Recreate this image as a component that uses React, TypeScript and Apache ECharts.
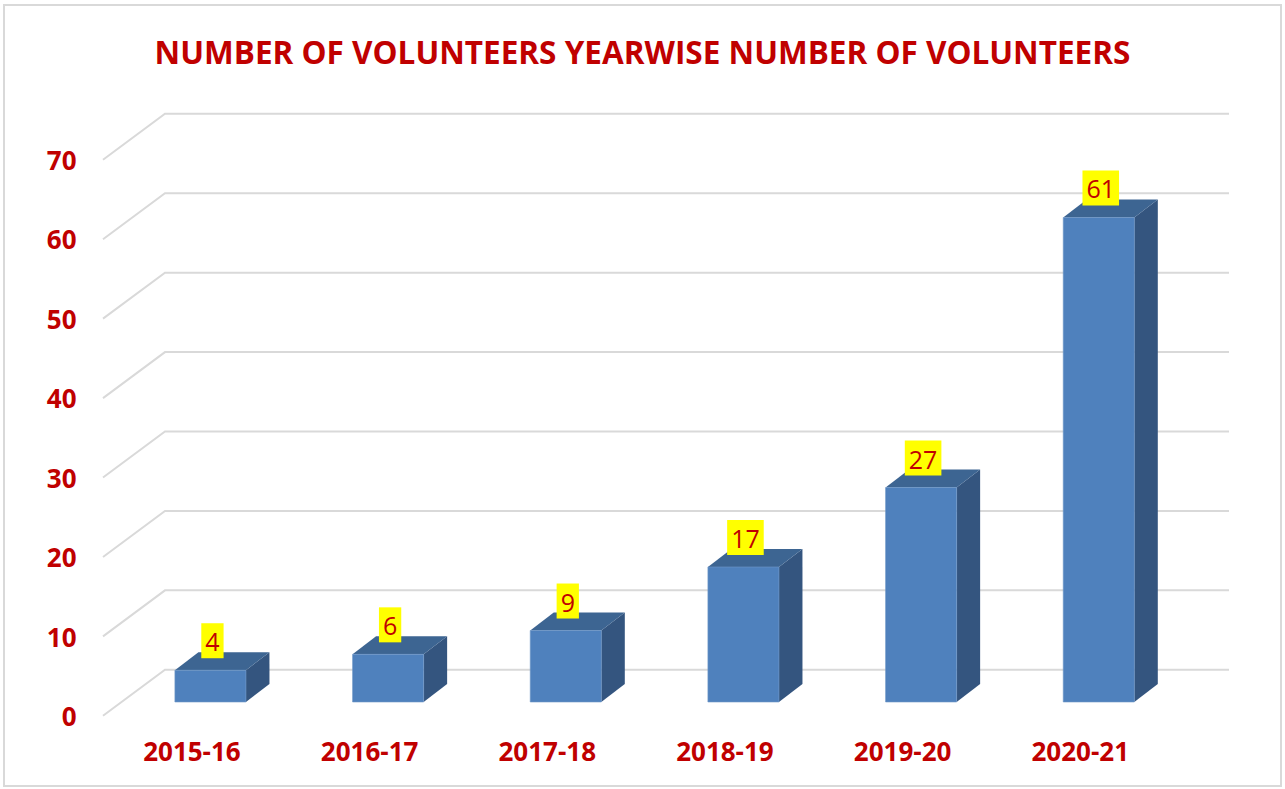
import React, { useEffect, useRef } from "react";
import * as echarts from "echarts";

const categories = ["2015-16", "2016-17", "2017-18", "2018-19", "2019-20", "2020-21"];
const volunteers = [4, 6, 9, 17, 27, 61];
const yTicks = [0, 10, 20, 30, 40, 50, 60, 70];
const chartTitle = "NUMBER OF VOLUNTEERS YEARWISE NUMBER OF VOLUNTEERS";

const DX = 62; // full depth offset
const DY = 46;
const BACK = 0.7; // bar front plane fraction from back
const BAR_DX = 23.5;
const BAR_DY = 18;
const RED = "#C00000";
const FONT = "'Open Sans', 'Noto Sans', sans-serif";

export default function App() {
  const ref = useRef<HTMLDivElement>(null);
  useEffect(() => {
    if (!ref.current) return;
    const chart = echarts.init(ref.current, undefined, { renderer: "svg" });
    const option: any = {
      animation: false,
      backgroundColor: "#ffffff",
      title: {
        text: chartTitle,
        left: "center",
        top: 30,
        textStyle: { color: RED, fontSize: 31.5, fontWeight: "bold", fontFamily: FONT },
      },
      graphic: [
        {
          type: "rect",
          shape: { x: 4, y: 5, width: 1277, height: 781 },
          style: { fill: "none", stroke: "#D9D9D9", lineWidth: 2 },
          z: -10,
        },
      ],
      grid: { left: 121.6, right: 97.4, top: 146, bottom: 87, containLabel: false },
      xAxis: {
        type: "category",
        data: categories,
        axisLine: { show: false },
        axisTick: { show: false },
        splitLine: { show: false },
        axisLabel: {
          color: RED,
          fontSize: 26,
          fontWeight: "bold",
          fontFamily: FONT,
          margin: 36,
          padding: [0, 37, 0, 0],
        },
      },
      yAxis: {
        type: "value",
        min: 0,
        max: 70,
        interval: 10,
        axisLine: { show: false },
        axisTick: { show: false },
        splitLine: { show: false },
        axisLabel: {
          color: RED,
          fontSize: 26,
          fontWeight: "bold",
          fontFamily: FONT,
          margin: 45,
          verticalAlign: "top",
          lineHeight: 28,
        },
      },
      series: [
        {
          type: "custom",
          z: 1,
          data: yTicks.map((v) => [0, v]),
          silent: true,
          renderItem: (params: any, api: any) => {
            const cs = params.coordSys;
            const y = api.coord([0, api.value(1)])[1];
            return {
              type: "polyline",
              shape: {
                points: [
                  [cs.x - (1 - BACK) * DX, y + (1 - BACK) * DY],
                  [cs.x + BACK * DX, y - BACK * DY],
                  [cs.x + cs.width + BACK * DX - 2, y - BACK * DY],
                ],
              },
              style: { stroke: "#D9D9D9", lineWidth: 2, fill: "none" },
            };
          },
        },
        {
          type: "custom",
          z: 2,
          data: volunteers.map((v, i) => [i, v]),
          renderItem: (params: any, api: any) => {
            const i = api.value(0);
            const v = api.value(1);
            const top = api.coord([i, v]);
            const base = api.coord([i, 0]);
            const bw = api.size([1, 0])[0] * 0.4;
            const cx = top[0];
            const x0 = cx - bw / 2;
            const x1 = cx + bw / 2;
            const yT = top[1];
            const yB = base[1];
            return {
              type: "group",
              children: [
                {
                  type: "polygon",
                  shape: {
                    points: [
                      [x1, yT],
                      [x1 + BAR_DX, yT - BAR_DY],
                      [x1 + BAR_DX, yB - BAR_DY],
                      [x1, yB],
                    ],
                  },
                  style: { fill: "#34557F" },
                },
                {
                  type: "polygon",
                  shape: {
                    points: [
                      [x0, yT],
                      [x1, yT],
                      [x1 + BAR_DX, yT - BAR_DY],
                      [x0 + BAR_DX, yT - BAR_DY],
                    ],
                  },
                  style: { fill: "#3D6592" },
                },
                {
                  type: "rect",
                  shape: { x: x0, y: yT, width: bw, height: yB - yT },
                  style: { fill: "#4F81BD", stroke: "#6E97C8", lineWidth: 0.6 },
                },
                {
                  type: "text",
                  x: cx + 2,
                  y: yT - 12,
                  style: {
                    text: String(v),
                    fill: RED,
                    fontSize: 25,
                    fontFamily: FONT,
                    align: "center",
                    verticalAlign: "bottom",
                    lineHeight: 28,
                    backgroundColor: "#FFFF00",
                    padding: [4, 4, 3, 4],
                  },
                  z2: 10,
                },
              ],
            };
          },
        },
      ],
    };
    chart.setOption(option);
    return () => chart.dispose();
  }, []);
  return (
    <div
      ref={ref}
      style={{ position: "absolute", left: 0, top: 0, width: 1285, height: 789, background: "#fff" }}
    />
  );
}
